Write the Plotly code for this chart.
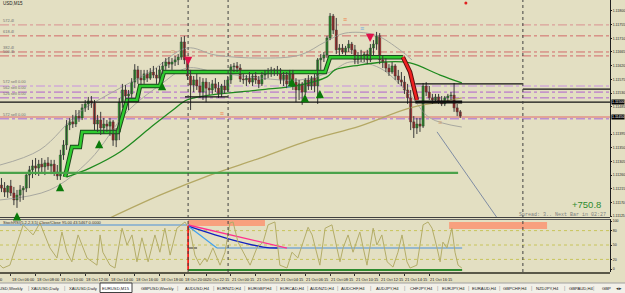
import plotly.graph_objects as go

W, H = 625, 293
PLOT_R = 610  # right edge of plot area (px)

# ---------------- candle data (EURUSD M15) ----------------
opens = [1.11227, 1.11217, 1.11204, 1.11224, 1.11201, 1.11178, 1.11194, 1.11211, 1.11217, 1.11260,
         1.11277, 1.11290, 1.11283, 1.11296, 1.11287, 1.11300, 1.11290, 1.11296, 1.11270, 1.11257,
         1.11326, 1.11359, 1.11425, 1.11435, 1.11428, 1.11454, 1.11448, 1.11481, 1.11494, 1.11504,
         1.11497, 1.11428, 1.11441, 1.11415, 1.11428, 1.11421, 1.11435, 1.11375, 1.11402, 1.11500,
         1.11540, 1.11520, 1.11527, 1.11566, 1.11606, 1.11579, 1.11573, 1.11593, 1.11579, 1.11599,
         1.11589, 1.11579, 1.11606, 1.11619, 1.11632, 1.11625, 1.11632, 1.11639, 1.11648, 1.11698,
         1.11639, 1.11586, 1.11556, 1.11573, 1.11553, 1.11533, 1.11566, 1.11546, 1.11540, 1.11560,
         1.11546, 1.11527, 1.11553, 1.11540, 1.11573, 1.11616, 1.11619, 1.11612, 1.11576, 1.11573,
         1.11579, 1.11566, 1.11586, 1.11573, 1.11560, 1.11589, 1.11596, 1.11599, 1.11606, 1.11599,
         1.11606, 1.11573, 1.11589, 1.11560, 1.11596, 1.11566, 1.11540, 1.11560, 1.11533, 1.11573,
         1.11553, 1.11579, 1.11553, 1.11639, 1.11645, 1.11655, 1.11711, 1.11783, 1.11737, 1.11672,
         1.11678, 1.11665, 1.11678, 1.11691, 1.11672, 1.11639, 1.11652, 1.11645, 1.11658, 1.11639,
         1.11678, 1.11691, 1.11718, 1.11639, 1.11632, 1.11612, 1.11599, 1.11619, 1.11586, 1.11573,
         1.11566, 1.11540, 1.11514, 1.11435, 1.11415, 1.11428, 1.11421, 1.11553, 1.11533, 1.11514,
         1.11507, 1.11517, 1.11504, 1.11494, 1.11514, 1.11520, 1.11523, 1.11481, 1.11468]
highs = [1.11250, 1.11237, 1.11227, 1.11244, 1.11221, 1.11211, 1.11227, 1.11224, 1.11270, 1.11290,
         1.11310, 1.11316, 1.11310, 1.11316, 1.11310, 1.11319, 1.11310, 1.11310, 1.11293, 1.11343,
         1.11375, 1.11441, 1.11448, 1.11458, 1.11474, 1.11474, 1.11494, 1.11507, 1.11517, 1.11520,
         1.11507, 1.11458, 1.11468, 1.11448, 1.11441, 1.11448, 1.11441, 1.11415, 1.11514, 1.11560,
         1.11556, 1.11540, 1.11579, 1.11625, 1.11619, 1.11606, 1.11606, 1.11606, 1.11612, 1.11619,
         1.11612, 1.11619, 1.11632, 1.11645, 1.11648, 1.11645, 1.11652, 1.11658, 1.11714, 1.11718,
         1.11645, 1.11606, 1.11586, 1.11593, 1.11583, 1.11579, 1.11579, 1.11566, 1.11573, 1.11579,
         1.11566, 1.11560, 1.11573, 1.11586, 1.11625, 1.11629, 1.11632, 1.11625, 1.11593, 1.11589,
         1.11599, 1.11593, 1.11599, 1.11586, 1.11599, 1.11606, 1.11612, 1.11616, 1.11612, 1.11619,
         1.11612, 1.11599, 1.11599, 1.11606, 1.11606, 1.11579, 1.11573, 1.11566, 1.11579, 1.11589,
         1.11586, 1.11593, 1.11645, 1.11658, 1.11665, 1.11718, 1.11793, 1.11790, 1.11777, 1.11691,
         1.11691, 1.11685, 1.11704, 1.11698, 1.11688, 1.11665, 1.11672, 1.11665, 1.11672, 1.11691,
         1.11704, 1.11731, 1.11727, 1.11652, 1.11645, 1.11625, 1.11632, 1.11625, 1.11606, 1.11599,
         1.11586, 1.11560, 1.11540, 1.11454, 1.11448, 1.11448, 1.11563, 1.11566, 1.11553, 1.11527,
         1.11527, 1.11527, 1.11520, 1.11520, 1.11527, 1.11533, 1.11563, 1.11494, 1.11474]
lows = [1.11204, 1.11188, 1.11185, 1.11191, 1.11161, 1.11152, 1.11172, 1.11178, 1.11204, 1.11217,
        1.11250, 1.11260, 1.11257, 1.11270, 1.11260, 1.11277, 1.11263, 1.11257, 1.11244, 1.11244,
        1.11310, 1.11343, 1.11408, 1.11415, 1.11418, 1.11435, 1.11441, 1.11468, 1.11474, 1.11481,
        1.11408, 1.11402, 1.11392, 1.11395, 1.11402, 1.11389, 1.11356, 1.11352, 1.11375, 1.11481,
        1.11507, 1.11474, 1.11514, 1.11546, 1.11560, 1.11556, 1.11560, 1.11566, 1.11573, 1.11579,
        1.11560, 1.11566, 1.11593, 1.11606, 1.11612, 1.11606, 1.11619, 1.11622, 1.11639, 1.11625,
        1.11573, 1.11474, 1.11533, 1.11540, 1.11514, 1.11507, 1.11500, 1.11523, 1.11527, 1.11533,
        1.11514, 1.11517, 1.11527, 1.11533, 1.11560, 1.11599, 1.11599, 1.11566, 1.11560, 1.11553,
        1.11560, 1.11553, 1.11560, 1.11546, 1.11553, 1.11573, 1.11579, 1.11583, 1.11586, 1.11586,
        1.11560, 1.11553, 1.11546, 1.11553, 1.11540, 1.11500, 1.11507, 1.11491, 1.11523, 1.11540,
        1.11540, 1.11533, 1.11494, 1.11606, 1.11632, 1.11645, 1.11704, 1.11724, 1.11658, 1.11655,
        1.11658, 1.11652, 1.11665, 1.11658, 1.11625, 1.11625, 1.11632, 1.11632, 1.11625, 1.11632,
        1.11652, 1.11672, 1.11625, 1.11612, 1.11599, 1.11586, 1.11593, 1.11573, 1.11560, 1.11553,
        1.11527, 1.11494, 1.11408, 1.11382, 1.11395, 1.11402, 1.11415, 1.11520, 1.11507, 1.11494,
        1.11497, 1.11494, 1.11487, 1.11487, 1.11500, 1.11507, 1.11468, 1.11454, 1.11448]
closes = [1.11217, 1.11204, 1.11224, 1.11201, 1.11178, 1.11194, 1.11211, 1.11217, 1.11260, 1.11277,
          1.11290, 1.11283, 1.11296, 1.11287, 1.11300, 1.11290, 1.11296, 1.11270, 1.11257, 1.11326,
          1.11359, 1.11425, 1.11435, 1.11428, 1.11454, 1.11448, 1.11481, 1.11494, 1.11504, 1.11497,
          1.11428, 1.11441, 1.11415, 1.11428, 1.11421, 1.11435, 1.11375, 1.11402, 1.11500, 1.11540,
          1.11520, 1.11527, 1.11566, 1.11606, 1.11579, 1.11573, 1.11593, 1.11579, 1.11599, 1.11589,
          1.11579, 1.11606, 1.11619, 1.11632, 1.11625, 1.11632, 1.11639, 1.11648, 1.11698, 1.11639,
          1.11586, 1.11556, 1.11573, 1.11553, 1.11533, 1.11566, 1.11546, 1.11540, 1.11560, 1.11546,
          1.11527, 1.11553, 1.11540, 1.11573, 1.11616, 1.11619, 1.11612, 1.11576, 1.11573, 1.11579,
          1.11566, 1.11586, 1.11573, 1.11560, 1.11589, 1.11596, 1.11599, 1.11606, 1.11599, 1.11606,
          1.11573, 1.11589, 1.11560, 1.11596, 1.11566, 1.11540, 1.11560, 1.11533, 1.11573, 1.11553,
          1.11579, 1.11553, 1.11639, 1.11645, 1.11655, 1.11711, 1.11783, 1.11737, 1.11672, 1.11678,
          1.11665, 1.11678, 1.11691, 1.11672, 1.11639, 1.11652, 1.11645, 1.11658, 1.11639, 1.11678,
          1.11691, 1.11718, 1.11639, 1.11632, 1.11612, 1.11599, 1.11619, 1.11586, 1.11573, 1.11566,
          1.11540, 1.11514, 1.11435, 1.11415, 1.11428, 1.11421, 1.11553, 1.11533, 1.11514, 1.11507,
          1.11517, 1.11504, 1.11494, 1.11514, 1.11520, 1.11523, 1.11481, 1.11468, 1.11454]

# price axis labels
price_ticks = [1.11800, 1.11755, 1.11710, 1.11665, 1.11620, 1.11575, 1.11530, 1.11485,
               1.11395, 1.11350, 1.11305, 1.11260, 1.11215, 1.11170, 1.11125]
price_range = [1.11122, 1.11836]
bar_range = [-0.48, 196.3]
highlight_prices = [1.11500, 1.11451]
highlight_labels = ["1.11500", "1.11450"]

# indicator lines
step_bar = [20.5, 22.7, 25.3, 26.0, 37.6, 39.5, 40.5, 43.7, 44.7, 51.1, 52.4, 104.4, 106.0, 129.5]
step_val = [1.11254, 1.11352, 1.11352, 1.11402, 1.11402, 1.11474, 1.11507, 1.11507, 1.11553,
            1.11553, 1.11599, 1.11599, 1.11648, 1.11648]
step_red_bar = [129.5, 131.8, 134.0]
step_red_val = [1.11648, 1.11599, 1.11507]
ma_green_bar = [21.1, 28.5, 38.2, 47.9, 55.3, 59.8, 67.3, 83.4, 96.3, 105, 107.6, 115.6, 123.7, 131.8, 141.5, 148.5]
ma_green_val = [1.11254, 1.11283, 1.11336, 1.11415, 1.11474, 1.11507, 1.11523, 1.11540, 1.11556,
                1.11583, 1.11606, 1.11622, 1.11632, 1.11629, 1.11589, 1.11563]
ma_tan_bar = [35, 51.1, 67.3, 83.4, 99.5, 115.6, 131.8, 141.5, 148.5]
ma_tan_val = [1.11119, 1.11194, 1.11260, 1.11316, 1.11375, 1.11421, 1.11481, 1.11500, 1.11514]
band_up_bar = [-0.5, 12.4, 25.3, 38.2, 47.9, 59.8, 68.9, 83.4, 96.3, 104.4, 110.8, 120.5, 128.5, 132.4]
band_up_val = [1.11293, 1.11343, 1.11468, 1.11546, 1.11599, 1.11678, 1.11655, 1.11645, 1.11655,
               1.11698, 1.11727, 1.11721, 1.11672, 1.11639]
band_mid_bar = [-0.5, 15.6, 28.5, 40.5, 51.1, 59.8, 68.9, 83.4, 96.3, 106, 112.4, 122.1, 131.8, 138.2, 148.5]
band_mid_val = [1.11178, 1.11211, 1.11310, 1.11468, 1.11556, 1.11612, 1.11599, 1.11579, 1.11573,
                1.11599, 1.11632, 1.11612, 1.11523, 1.11448, 1.11418]
trend_bar = [140.5, 159.9]
trend_val = [1.11402, 1.11119]

# horizontal levels
pivot_levels = [1.11754, 1.11718, 1.11665, 1.11652, 1.11553, 1.11533, 1.11514, 1.11445]
pivot_colors = ["#D99090", "#D26A6A", "#D26A6A", "#D26A6A", "#C890E0", "#B060D0", "#B060D0", "#A868D8"]
pivot_labels = ["572.4l", "618.4l", "382.4l", "500.4l", "572 sell 0.00", "562 sell 0.00",
                "526 sell 0.00", "572 sell 0.00"]
bid_line = 1.11451
black_level = 1.11500
green_level = 1.11267
seg_levels = [1.11560, 1.11543, 1.11517]
seg_from = [133.5, 168.2, 59.2]
seg_to = [168.2, 196.3, 73.1]
separators = [60.2, 73.1, 168.2]

# signal arrows (bar, price)
up_bar = [5, 18.9, 31.5, 51.8, 93.7, 97.9, 102.7]
up_val = [1.11138, 1.11234, 1.11375, 1.11566, 1.11579, 1.11527, 1.11540]
down_bar = [60.2, 118.9]
down_val = [1.11622, 1.11698]
mark_bar = [55.3, 71.1, 92.7, 110.8, 116.3, 141.5]
mark_val = [1.11665, 1.11461, 1.11550, 1.11770, 1.11741, 1.11431]
mark_col = ["#D0A070", "#F08048", "#70A8E0", "#F08048", "#70A8E0", "#D0A070"]

# oscillator
osc_bar = [-0.5, 0.5, 2.7, 7, 10.2, 12.4, 15.6, 17.9, 19.5, 21.1, 22.7, 24.7, 27.6, 30.8, 31.8, 32.7,
           35, 36.6, 38.9, 40.5, 42.1, 43.7, 45.3, 47.3, 49.5, 51.1, 52.7, 54.4, 56.6, 59.2, 60.8,
           62.4, 64, 65.6, 66.3, 68.2, 70.5, 72.1, 73.7, 74.7, 76.3, 77.9, 80.2, 82.4, 84.4, 86,
           88.2, 89.8, 92.1, 93.7, 95.6, 97.3, 98.9, 100.2, 101.8, 102.7, 104.4, 106.6, 108.2,
           109.2, 110.2, 111.8, 113.4, 115.6, 117.9, 119.9, 121.1, 122.7, 124.4, 126.3, 127.9,
           129.2, 130.8, 131.8, 134, 136, 137.6, 138.9, 140.5, 141.5, 142.4, 143.7, 145.3, 146.3,
           147.3, 148.5]
osc_val = [8, 2, 8, 92, 71, 96, 44, 23, 77, 35, 15, 71, 23, 8, 71, 35,
           8, 2, 85, 50, 71, 15, 65, 15, 71, 35, 85, 29, 85, 98, 81,
           29, 8, 23, 15, 44, 8, 35, 96, 98, 56, 35, 8, 44, 56, 92,
           98, 8, 2, 35, 23, 56, 87, 71, 29, 8, 85, 92, 44,
           15, 44, 71, 35, 77, 8, 85, 50, 71, 15, 4, 35,
           71, 15, 2, 8, 92, 98, 85, 44, 15, 56, 44, 85, 35,
           8, 2]
osc_levels = [20, 50, 80]
osc_upper_val = 91.7
osc_base_val = 43.75
pink_bar = [60.2, 92.1]
pink_val = [91.7, 43.75]
navy_bar = [60.2, 74.7, 84.4, 89.2]
navy_val = [89.6, 60.4, 45.8, 43.75]
sky_bar = [60.2, 69.5]
sky_val = [89.6, 43.75]
rect_bar0 = [60.2, 144.4]
rect_bar1 = [85.0, 176.0]
rect_v0 = [89.6, 83.3]
rect_v1 = [102.0, 97.9]
osc_range = [-6.25, 104.2]

# time axis
time_bars = [3, 11, 19, 27, 35, 43, 51, 59, 66, 74, 82, 90, 98, 106, 114, 122, 130, 138]
time_labels = ["18 Oct 06:00", "18 Oct 08:00", "18 Oct 10:00", "18 Oct 12:00", "18 Oct 14:00",
               "18 Oct 16:00", "18 Oct 18:00", "18 Oct 20:00", "20 Oct 22:15", "21 Oct 00:15",
               "21 Oct 02:15", "21 Oct 04:15", "21 Oct 06:15", "21 Oct 08:15", "21 Oct 10:15",
               "21 Oct 12:15", "21 Oct 14:15", "21 Oct 16:15"]

# tabs
tab_names = ["USD,Weekly", "XAUUSD,Daily", "XAUUSD,Daily", "EURUSD,M15", "GBPUSD,Weekly",
             "AUDUSD,H4", "EURNZD,H4", "EURGBP,H4", "EURCAD,H4", "AUDNZD,H4", "AUDCHF,H4",
             "AUDJPY,H4", "CHFJPY,H4", "EURJPY,H4", "EURAUD,H4", "GBPCHF,H4", "NZDJPY,H4",
             "GBPAUD,H4", "GBP"]
tab_centers = [12, 45, 83, 116, 157, 197, 229, 260, 292, 322, 353, 387, 421, 453, 484, 515, 547, 581, 606]
active_tab = 3

# ---------------- helpers ----------------
def py(p):
    return 1 - p / H

XD = PLOT_R / W
MAIN_DOM = [py(217), 1.0]
OSC_DOM = [py(272), py(219)]
BG = "#E3DFC2"
FONT = "Liberation Sans"

fig = go.Figure()

# bands / MAs
fig.add_trace(go.Scatter(x=band_up_bar, y=band_up_val, mode="lines", line=dict(color="#A8A8A0", width=1), line_shape="spline"))
fig.add_trace(go.Scatter(x=band_mid_bar, y=band_mid_val, mode="lines", line=dict(color="#A8A8A0", width=1), line_shape="spline"))
fig.add_trace(go.Scatter(x=ma_tan_bar, y=ma_tan_val, mode="lines", line=dict(color="#B4A864", width=1.3), line_shape="spline"))
fig.add_trace(go.Scatter(x=ma_green_bar, y=ma_green_val, mode="lines", line=dict(color="#1F8A1F", width=1.3), line_shape="spline"))
fig.add_trace(go.Scatter(x=trend_bar, y=trend_val, mode="lines", line=dict(color="#7F8CA3", width=1)))
# step trailing line
fig.add_trace(go.Scatter(x=step_bar, y=step_val, mode="lines", line=dict(color="#1C4A1C", width=4.5)))
fig.add_trace(go.Scatter(x=step_bar, y=step_val, mode="lines", line=dict(color="#2FCB2F", width=2.5)))
fig.add_trace(go.Scatter(x=step_red_bar, y=step_red_val, mode="lines", line=dict(color="#5A1010", width=4.5)))
fig.add_trace(go.Scatter(x=step_red_bar, y=step_red_val, mode="lines", line=dict(color="#F02020", width=2.5)))

# candles: wicks
xs = list(range(len(closes)))
wx, wy = [], []
for i in xs:
    wx += [i, i, None]
    wy += [lows[i], highs[i], None]
fig.add_trace(go.Scatter(x=wx, y=wy, mode="lines", line=dict(color="#3A3A3A", width=1)))
# candle bodies
body_base = [min(o, c) for o, c in zip(opens, closes)]
body_h = [max(abs(c - o), 0.00002) for o, c in zip(opens, closes)]
body_col = ["#22C422" if c >= o else "#E01E1E" for o, c in zip(opens, closes)]
fig.add_trace(go.Bar(x=xs, y=body_h, base=body_base, width=0.72,
                     marker=dict(color=body_col, line=dict(color="#2A2A2A", width=0.4))))

# small markers
fig.add_trace(go.Scatter(x=mark_bar, y=mark_val, mode="text", text=["≡"] * len(mark_bar),
                         textfont=dict(size=7, color=mark_col, family=FONT)))
fig.add_trace(go.Scatter(x=[149.8], y=[1.11826], mode="markers",
                         marker=dict(size=3, color="#E02020")))

# ---------------- oscillator ----------------
fig.add_trace(go.Scatter(x=[bar_range[0], separators[0]], y=[osc_upper_val, osc_upper_val], mode="lines",
                         line=dict(color="#4A90D8", width=1.2), xaxis="x2", yaxis="y2"))
fig.add_trace(go.Scatter(x=[sky_bar[1], 148.6], y=[osc_base_val, osc_base_val], mode="lines",
                         line=dict(color="#4A90D8", width=1.2), xaxis="x2", yaxis="y2"))
fig.add_trace(go.Scatter(x=pink_bar, y=pink_val, mode="lines", line=dict(color="#FF2F8F", width=1.3), xaxis="x2", yaxis="y2"))
fig.add_trace(go.Scatter(x=navy_bar, y=navy_val, mode="lines", line=dict(color="#1020C0", width=1.3),
                         line_shape="spline", xaxis="x2", yaxis="y2"))
fig.add_trace(go.Scatter(x=sky_bar, y=sky_val, mode="lines", line=dict(color="#3EA0F0", width=1.2), xaxis="x2", yaxis="y2"))
fig.add_trace(go.Scatter(x=[separators[0], 65.5], y=[osc_base_val, osc_base_val], mode="lines",
                         line=dict(color="#333333", width=1, dash="dash"), xaxis="x2", yaxis="y2"))
fig.add_trace(go.Scatter(x=osc_bar, y=osc_val, mode="lines", line=dict(color="#B3AC68", width=1), xaxis="x2", yaxis="y2"))
fig.add_trace(go.Scatter(x=[separators[0], 148.6], y=[-2, -2], mode="lines",
                         line=dict(color="#2E8B2E", width=2), xaxis="x2", yaxis="y2"))
fig.add_trace(go.Scatter(x=[separators[0], separators[0]], y=[-2, 89.6], mode="lines",
                         line=dict(color="#FF0000", width=1.5), xaxis="x2", yaxis="y2"))

shapes = []
annotations = []

# horizontal pivot levels
for lv, col in zip(pivot_levels, pivot_colors):
    shapes.append(dict(type="line", xref="paper", yref="y", x0=0, x1=XD, y0=lv, y1=lv,
                       line=dict(color=col, width=1, dash="dashdot"), layer="below"))
for lv, lab in zip(pivot_levels, pivot_labels):
    annotations.append(dict(xref="paper", yref="y", x=0.002, y=lv, text=lab, showarrow=False,
                            xanchor="left", yanchor="bottom", yshift=0,
                            font=dict(size=4, color="#707070", family=FONT)))
shapes.append(dict(type="line", xref="paper", yref="y", x0=0, x1=XD, y0=bid_line, y1=bid_line,
                   line=dict(color="#E06A6A", width=1), layer="below"))
shapes.append(dict(type="line", xref="paper", yref="y", x0=0, x1=XD, y0=black_level, y1=black_level,
                   line=dict(color="#101010", width=1.2)))
shapes.append(dict(type="line", xref="x", yref="y", x0=133.5, x1=148.6, y0=black_level, y1=black_level,
                   line=dict(color="#101010", width=3)))
for lv, a, b in zip(seg_levels, seg_from, seg_to):
    shapes.append(dict(type="line", xref="x", yref="y", x0=a, x1=b, y0=lv, y1=lv,
                       line=dict(color="#101010", width=1.2)))
shapes.append(dict(type="line", xref="x", yref="y", x0=bar_range[0], x1=147.3, y0=green_level, y1=green_level,
                   line=dict(color="#4AA24A", width=2.2)))
# period separators
for s in separators:
    shapes.append(dict(type="line", xref="x", yref="paper", x0=s, x1=s, y0=py(272), y1=1,
                       line=dict(color="#404040", width=1, dash="dot")))
# oscillator salmon blocks & level lines
for a, b, v0, v1 in zip(rect_bar0, rect_bar1, rect_v0, rect_v1):
    shapes.append(dict(type="rect", xref="x2", yref="y2", x0=a, x1=b, y0=v0, y1=v1,
                       fillcolor="#F8A07E", line=dict(width=0), layer="below"))
for lv in osc_levels:
    shapes.append(dict(type="line", xref="paper", yref="y2", x0=0, x1=XD, y0=lv, y1=lv,
                       line=dict(color="#C8C45A", width=1, dash="dot"), layer="below"))
# panel borders
shapes.append(dict(type="line", xref="paper", yref="paper", x0=0, x1=XD, y0=py(217.5), y1=py(217.5),
                   line=dict(color="#404040", width=1)))
shapes.append(dict(type="line", xref="paper", yref="paper", x0=0, x1=XD, y0=py(219.5), y1=py(219.5),
                   line=dict(color="#606060", width=1)))
shapes.append(dict(type="line", xref="paper", yref="paper", x0=0, x1=XD, y0=py(273), y1=py(273),
                   line=dict(color="#5A5848", width=2)))
# tab strip
shapes.append(dict(type="rect", xref="paper", yref="paper", x0=0, x1=1, y0=0, y1=py(283),
                   fillcolor="#F2F0E8", line=dict(width=0)))
shapes.append(dict(type="line", xref="paper", yref="paper", x0=0, x1=1, y0=py(283), y1=py(283),
                   line=dict(color="#A0A0A0", width=1)))
act_c = tab_centers[active_tab]
shapes.append(dict(type="rect", xref="paper", yref="paper", x0=(act_c - 16) / W, x1=(act_c + 16) / W,
                   y0=py(292.5), y1=py(283), fillcolor="#FFFFFF", line=dict(color="#404040", width=1)))
for i, (name, c) in enumerate(zip(tab_names, tab_centers)):
    annotations.append(dict(xref="paper", yref="paper", x=c / W, y=py(288), text=name, showarrow=False,
                            xanchor="center", yanchor="middle",
                            font=dict(size=4.2, color="#202020", family=FONT)))
    if i < len(tab_names) - 1 and i not in (active_tab - 1, active_tab):
        mid = (c + tab_centers[i + 1]) / 2
        annotations.append(dict(xref="paper", yref="paper", x=mid / W, y=py(288), text="|", showarrow=False,
                                xanchor="center", yanchor="middle",
                                font=dict(size=5, color="#909090", family=FONT)))
annotations.append(dict(xref="paper", yref="paper", x=619 / W, y=py(288), text="◂▸", showarrow=False,
                        xanchor="center", yanchor="middle",
                        font=dict(size=5, color="#303030", family=FONT)))

# time labels
for b, t in zip(time_bars, time_labels):
    annotations.append(dict(xref="x2", yref="paper", x=b, y=py(279), text=t, showarrow=False,
                            xanchor="left", yanchor="middle", xshift=-1,
                            font=dict(size=3.9, color="#202020", family=FONT)))
annotations.append(dict(xref="x2", yref="paper", x=1, y=py(279), text="18 Oct 04:00", showarrow=False,
                        xanchor="right", yanchor="middle", font=dict(size=3.9, color="#202020", family=FONT)))

# arrows
for b, v in zip(up_bar, up_val):
    annotations.append(dict(xref="x", yref="y", x=b, y=v, ax=0, ay=8, showarrow=True, arrowhead=2,
                            arrowsize=0.75, arrowwidth=2.2, arrowcolor="#0A7A0A", text=""))
for b, v in zip(down_bar, down_val):
    annotations.append(dict(xref="x", yref="y", x=b, y=v, ax=0, ay=-9, showarrow=True, arrowhead=2,
                            arrowsize=0.75, arrowwidth=2.2, arrowcolor="#E0124A", text=""))

# highlighted price labels
for p, t in zip(highlight_prices, highlight_labels):
    annotations.append(dict(xref="paper", yref="y", x=(PLOT_R + 1) / W, y=p, text=t, showarrow=False,
                            xanchor="left", yanchor="middle", bgcolor="#000000", borderpad=0,
                            font=dict(size=3.5, color="#FFFFFF", family=FONT)))

# texts
annotations.append(dict(xref="paper", yref="paper", x=1 / W, y=py(4), text="USD,M15", showarrow=False,
                        xanchor="left", yanchor="middle", font=dict(size=4.5, color="#202020", family=FONT)))
annotations.append(dict(xref="paper", yref="paper", x=603 / W, y=py(204), text="+750.8", showarrow=False,
                        xanchor="right", yanchor="middle", font=dict(size=9.5, color="#2E8B2E", family=FONT)))
annotations.append(dict(xref="paper", yref="paper", x=517 / W, y=py(215), text="Spread: 3.. Next Bar in 02:27",
                        showarrow=False, xanchor="left", yanchor="middle",
                        font=dict(size=5.0, color="#808080", family="Liberation Mono")))
annotations.append(dict(xref="paper", yref="paper", x=1 / W, y=py(222.5),
                        text="StochRSI(5,2,2,3,5) Close/Close 95.00 43.5467 0.0000", showarrow=False,
                        xanchor="left", yanchor="middle", font=dict(size=4, color="#303030", family=FONT)))

axis_font = dict(size=3.5, color="#202020", family=FONT)
fig.update_layout(
    width=W, height=H, margin=dict(l=0, r=0, t=0, b=0),
    paper_bgcolor=BG, plot_bgcolor=BG, showlegend=False, barmode="overlay",
    xaxis=dict(domain=[0, XD], range=bar_range, showgrid=False, zeroline=False, showticklabels=False,
               ticks="", anchor="y"),
    yaxis=dict(domain=MAIN_DOM, range=price_range, side="right", showgrid=False, zeroline=False,
               tickvals=price_ticks, ticktext=[f"{p:.5f}" for p in price_ticks], ticks="outside",
               ticklen=1, tickcolor="#202020", tickfont=axis_font, showline=True, linecolor="#202020",
               linewidth=1, anchor="x", automargin=False),
    xaxis2=dict(domain=[0, XD], range=bar_range, showgrid=False, zeroline=False, showticklabels=False,
                tickvals=time_bars, ticks="outside", ticklen=3, tickcolor="#303030", anchor="y2"),
    yaxis2=dict(domain=OSC_DOM, range=osc_range, side="right", showgrid=False, zeroline=False,
                tickvals=[0, 20, 50, 80, 100], ticks="outside", ticklen=1, tickcolor="#202020",
                tickfont=axis_font, showline=True, linecolor="#202020", linewidth=1, anchor="x2",
                automargin=False),
    shapes=shapes, annotations=annotations,
)

fig.write_html("out.html")
